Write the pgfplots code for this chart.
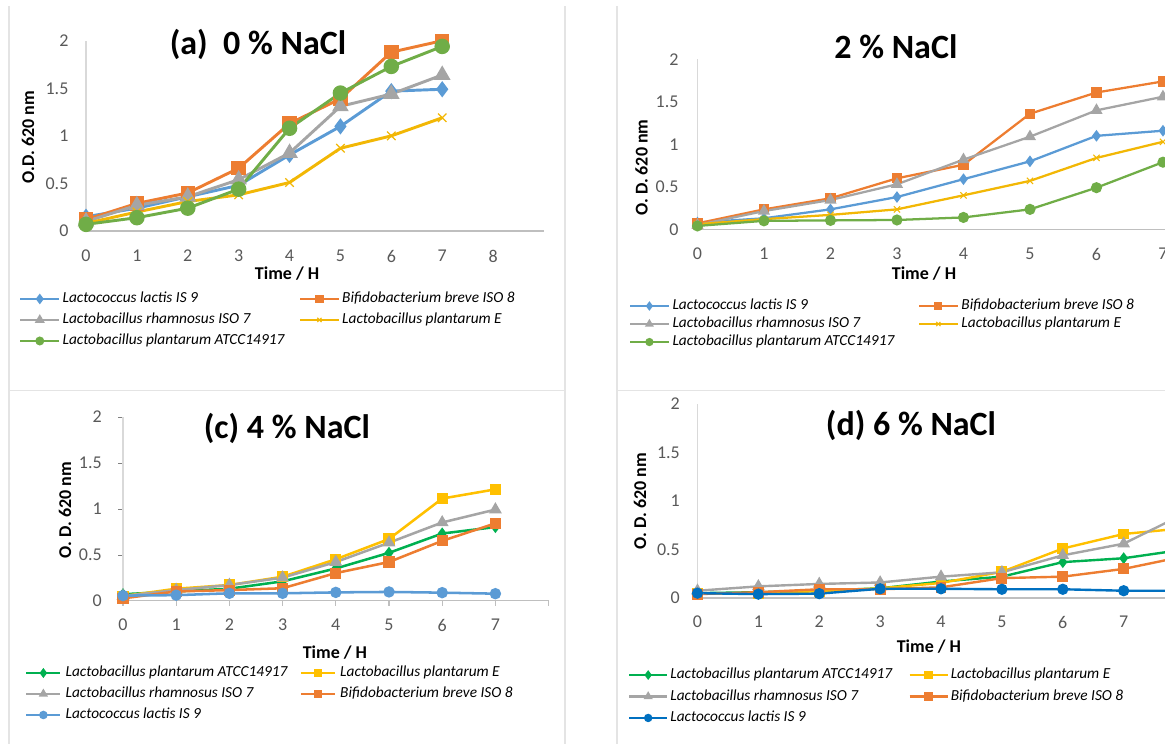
\documentclass[border=0pt]{standalone}
\usepackage{pgfplots}
\pgfplotsset{compat=1.18}
\usepackage{fontspec}
\setmainfont{Carlito}

\definecolor{cBlue}{HTML}{5B9BD5}
\definecolor{cOrange}{HTML}{ED7D31}
\definecolor{cGray}{HTML}{A5A5A5}
\definecolor{cYellow}{HTML}{FFC000}
\definecolor{cYellowA}{HTML}{F2B705}
\definecolor{cGreenA}{HTML}{70AD47}
\definecolor{cGreenC}{HTML}{00B050}
\definecolor{cBlueD}{HTML}{0070C0}
\definecolor{cTick}{HTML}{595959}
\definecolor{cAxis}{HTML}{BFBFBF}
\definecolor{cAxisY}{HTML}{D9D9D9}
\definecolor{cFrame}{HTML}{E4E4E4}

\pgfplotsset{
  panel/.style={
    scale only axis, anchor=south west, clip=false,
    axis lines=left,
    x axis line style={draw=cAxis, line width=0.9pt, -},
    y axis line style={draw=cAxisY, line width=0.9pt, -},
    ymin=0, ymax=2, xmin=0,
    ytick={0,0.5,1,1.5,2}, yticklabels={0,0.5,1,1.5,2},
    /pgf/number format/assume math mode=true,
    major tick length=0pt,
    tick label style={font=\fontsize{13.5}{15}\selectfont, text=cTick},
    yticklabel style={anchor=east, inner sep=0pt},
    xticklabel style={anchor=center, inner sep=0pt},
    label style={font=\fontsize{13.5}{15}\selectfont\bfseries},
    xlabel={Time / H},
    xlabel style={anchor=center},
    ylabel style={anchor=center},
    title style={font=\fontsize{25.5}{29}\selectfont\bfseries, anchor=center},
    legend columns=2, legend cell align=left,
    legend image code/.code={\draw[mark repeat=2,mark phase=2,##1] plot coordinates {(0pt,0pt)(14.5pt,0pt)(29pt,0pt)};},
    legend image post style={mark size=2.2pt},
    legend style={draw=none, fill=none, anchor=north west, inner sep=0pt, outer sep=0pt,
      column sep=0pt, font=\fontsize{11.5}{13}\selectfont\itshape,
      nodes={inner xsep=0pt, inner ysep=0pt, text height=8pt, text depth=2.5pt},
      /tikz/every odd column/.append style={column sep=1.5pt}},
  },
}

\begin{document}
\begin{tikzpicture}
\path[use as bounding box] (0,0) rectangle (873.75pt,558pt);
\clip (0,0) rectangle (873.75pt,558pt);
% frames
\draw[cFrame, line width=0.8pt] (6.75pt,0) -- (6.75pt,553.5pt);
\draw[cFrame, line width=0.8pt] (423.75pt,0) -- (423.75pt,553.5pt);
\draw[cFrame, line width=0.8pt] (462.75pt,0) -- (462.75pt,553.5pt);
\draw[cFrame, line width=0.8pt] (6.75pt,265.1pt) -- (423.75pt,265.1pt);
\draw[cFrame, line width=0.8pt] (462.75pt,265.1pt) -- (873.75pt,265.1pt);

% ---------------- (a) ----------------
\begin{axis}[panel, at={(64.5pt,384.75pt)}, width=343.5pt, height=142.7pt,
  xmax=9, xtick={0,...,8},
  xticklabel style={yshift=-18.75pt}, yticklabel style={xshift=-13pt},
  xlabel style={at={(axis description cs:0.439,-0.226)}},
  ylabel={O.D. 620 nm}, ylabel style={at={(axis description cs:-0.1266,0.494)}},
  title={(a)\ \ 0 \% NaCl}, title style={at={(axis description cs:0.3755,0.941)}},
  legend style={at={(axis description cs:-0.1463,-0.3205)}, row sep=5.25pt}]
\addplot[color=cBlue, line width=2.2pt, mark=diamond*, mark size=4.3pt] coordinates {(0,0.15)(1,0.24)(2,0.36)(3,0.48)(4,0.80)(5,1.10)(6,1.47)(7,1.49)};
\addlegendentry{\makebox[177pt][l]{Lactococcus lactis IS 9}}
\addplot[color=cOrange, line width=2.2pt, mark=square*, mark size=4.3pt] coordinates {(0,0.12)(1,0.29)(2,0.40)(3,0.66)(4,1.13)(5,1.39)(6,1.88)(7,2.00)};
\addlegendentry{Bifidobacterium breve ISO 8}
\addplot[color=cGray, line width=2.2pt, mark=triangle*, mark size=5pt] coordinates {(0,0.10)(1,0.27)(2,0.36)(3,0.54)(4,0.82)(5,1.31)(6,1.44)(7,1.64)};
\addlegendentry{\makebox[177pt][l]{Lactobacillus rhamnosus ISO 7}}
\addplot[color=cYellowA, line width=2.2pt, mark=x, mark size=4.5pt, mark options={line width=0.9pt}] coordinates {(0,0.08)(1,0.20)(2,0.31)(3,0.38)(4,0.51)(5,0.87)(6,1.00)(7,1.19)};
\addlegendentry{Lactobacillus plantarum E}
\addplot[color=cGreenA, line width=2.2pt, mark=*, mark size=4.7pt] coordinates {(0,0.07)(1,0.14)(2,0.24)(3,0.44)(4,1.08)(5,1.45)(6,1.73)(7,1.94)};
\addlegendentry{\makebox[177pt][l]{Lactobacillus plantarum ATCC14917}}
\end{axis}

% ---------------- (b) ----------------
\begin{axis}[panel, at={(523.1pt,386pt)}, width=399pt, height=127.5pt,
  xmax=8, xtick={0,...,8},
  xticklabel style={yshift=-18.5pt}, yticklabel style={xshift=-14pt},
  xlabel style={at={(axis description cs:0.4258,-0.263)}},
  ylabel={O. D. 620 nm}, ylabel style={at={(axis description cs:-0.105,0.3635)}},
  title={2 \% NaCl}, title style={at={(axis description cs:0.373,1.027)}},
  legend style={at={(axis description cs:-0.1288,-0.41)}, row sep=3pt,
    /tikz/every odd column/.append style={column sep=2pt}}]
\addplot[color=cBlue, line width=1.7pt, mark=diamond*, mark size=3pt] coordinates {(0,0.08)(1,0.13)(2,0.235)(3,0.38)(4,0.59)(5,0.80)(6,1.10)(7,1.16)};
\addlegendentry{\makebox[184pt][l]{Lactococcus lactis IS 9}}
\addplot[color=cOrange, line width=1.7pt, mark=square*, mark size=3pt] coordinates {(0,0.07)(1,0.235)(2,0.365)(3,0.60)(4,0.76)(5,1.36)(6,1.61)(7,1.74)};
\addlegendentry{Bifidobacterium breve ISO 8}
\addplot[color=cGray, line width=1.7pt, mark=triangle*, mark size=3.6pt] coordinates {(0,0.05)(1,0.215)(2,0.345)(3,0.53)(4,0.82)(5,1.09)(6,1.40)(7,1.56)};
\addlegendentry{\makebox[184pt][l]{Lactobacillus rhamnosus ISO 7}}
\addplot[color=cYellowA, line width=1.7pt, mark=x, mark size=3.3pt, mark options={line width=0.8pt}] coordinates {(0,0.06)(1,0.12)(2,0.17)(3,0.235)(4,0.40)(5,0.57)(6,0.84)(7,1.03)};
\addlegendentry{Lactobacillus plantarum E}
\addplot[color=cGreenA, line width=1.7pt, mark=*, mark size=3.3pt] coordinates {(0,0.04)(1,0.10)(2,0.105)(3,0.11)(4,0.14)(5,0.235)(6,0.49)(7,0.79)};
\addlegendentry{\makebox[184pt][l]{Lactobacillus plantarum ATCC14917}}
\end{axis}

% ---------------- (c) ----------------
\begin{axis}[panel, at={(92.25pt,107.5pt)}, width=319.2pt, height=138pt,
  xmax=8, xtick={0,...,7}, extra x ticks={8}, extra x tick labels={},
  tick align=outside, major tick length=3.75pt, x tick style={draw=cAxis, line width=0.8pt},
  xticklabel style={yshift=-14.5pt}, yticklabel style={xshift=-12pt},
  xlabel style={at={(axis description cs:0.498,-0.284)}},
  ylabel={O. D. 620 nm}, ylabel style={at={(axis description cs:-0.136,0.493)}},
  title={(c) 4 \% NaCl}, title style={at={(axis description cs:0.385,0.895)}},
  legend image code/.code={\draw[mark repeat=2,mark phase=2,#1] plot coordinates {(0pt,0pt)(12.75pt,0pt)(25.5pt,0pt)};},
  legend style={at={(axis description cs:-0.230,-0.355)}, row sep=5.25pt,
    /tikz/every odd column/.append style={column sep=3pt}}]
\addplot[color=cGreenC, line width=1.9pt, mark=diamond*, mark size=3pt] coordinates {(0,0.07)(1,0.10)(2,0.13)(3,0.21)(4,0.35)(5,0.52)(6,0.73)(7,0.80)};
\addlegendentry{\makebox[175.5pt][l]{Lactobacillus plantarum ATCC14917}}
\addplot[color=cYellow, line width=1.9pt, mark=square*, mark size=3.2pt] coordinates {(0,0.05)(1,0.13)(2,0.17)(3,0.26)(4,0.45)(5,0.67)(6,1.11)(7,1.21)};
\addlegendentry{Lactobacillus plantarum E}
\addplot[color=cGray, line width=1.9pt, mark=triangle*, mark size=3.7pt] coordinates {(0,0.05)(1,0.115)(2,0.17)(3,0.25)(4,0.42)(5,0.63)(6,0.85)(7,0.99)};
\addlegendentry{\makebox[175.5pt][l]{Lactobacillus rhamnosus ISO 7}}
\addplot[color=cOrange, line width=1.9pt, mark=square*, mark size=3.2pt] coordinates {(0,0.025)(1,0.10)(2,0.115)(3,0.135)(4,0.30)(5,0.42)(6,0.65)(7,0.84)};
\addlegendentry{Bifidobacterium breve ISO 8}
\addplot[color=cBlue, line width=1.9pt, mark=*, mark size=3.3pt] coordinates {(0,0.055)(1,0.06)(2,0.08)(3,0.08)(4,0.09)(5,0.095)(6,0.087)(7,0.076)};
\addlegendentry{\makebox[175.5pt][l]{Lactococcus lactis IS 9}}
\end{axis}

% ---------------- (d) ----------------
\begin{axis}[panel, at={(523.1pt,109.5pt)}, width=411pt, height=145.5pt,
  xmax=9, xtick={0,...,8},
  xticklabel style={yshift=-18pt}, yticklabel style={xshift=-13pt},
  xlabel style={at={(axis description cs:0.4224,-0.2526)}},
  ylabel={O. D. 620 nm}, ylabel style={at={(axis description cs:-0.105,0.5)}},
  title={(d) 6 \% NaCl}, title style={at={(axis description cs:0.3896,0.846)}},
  legend image code/.code={\draw[mark repeat=2,mark phase=2,#1] plot coordinates {(0pt,0pt)(14.25pt,0pt)(28.5pt,0pt)};},
  legend style={at={(axis description cs:-0.1268,-0.361)}, row sep=5.6pt}]
\addplot[color=cGreenC, line width=1.8pt, mark=diamond*, mark size=3pt] coordinates {(0,0.05)(1,0.06)(2,0.075)(3,0.10)(4,0.17)(5,0.22)(6,0.37)(7,0.41)(8,0.50)};
\addlegendentry{\makebox[178.5pt][l]{Lactobacillus plantarum ATCC14917}}
\addplot[color=cYellow, line width=1.8pt, mark=square*, mark size=3.2pt] coordinates {(0,0.045)(1,0.05)(2,0.07)(3,0.10)(4,0.155)(5,0.27)(6,0.51)(7,0.66)(8,0.72)};
\addlegendentry{Lactobacillus plantarum E}
\addplot[color=cGray, line width=1.8pt, mark=triangle*, mark size=3.7pt] coordinates {(0,0.075)(1,0.12)(2,0.145)(3,0.16)(4,0.22)(5,0.265)(6,0.44)(7,0.56)(8,0.87)};
\addlegendentry{\makebox[178.5pt][l]{Lactobacillus rhamnosus ISO 7}}
\addplot[color=cOrange, line width=1.8pt, mark=square*, mark size=3.2pt] coordinates {(0,0.04)(1,0.06)(2,0.09)(3,0.09)(4,0.11)(5,0.205)(6,0.22)(7,0.30)(8,0.43)};
\addlegendentry{Bifidobacterium breve ISO 8}
\addplot[color=cBlueD, line width=1.8pt, mark=*, mark size=3.3pt] coordinates {(0,0.05)(1,0.04)(2,0.045)(3,0.095)(4,0.095)(5,0.09)(6,0.09)(7,0.075)(8,0.075)};
\addlegendentry{\makebox[178.5pt][l]{Lactococcus lactis IS 9}}
\end{axis}
\end{tikzpicture}
\end{document}
